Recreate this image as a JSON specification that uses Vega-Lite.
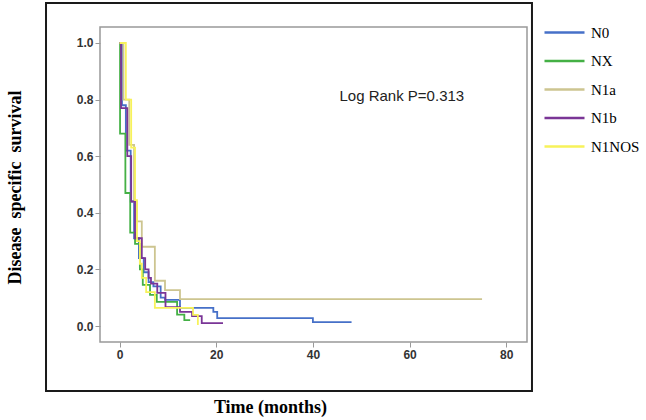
{
  "$schema": "https://vega.github.io/schema/vega-lite/v6.json",
  "autosize": {"type": "none"},
  "padding": {"left": 100, "top": 27, "right": 119, "bottom": 78},
  "width": 427,
  "height": 315,
  "background": "white",
  "config": {
    "view": {"stroke": "#999999", "strokeWidth": 1.5},
    "axis": {"grid": false, "domain": false, "tickColor": "#999999", "tickSize": 5, "labelFont": "Liberation Sans", "labelFontSize": 12, "labelFontWeight": "bold", "labelColor": "#333333", "labelPadding": 2, "titleFont": "Liberation Serif", "titleFontSize": 18, "titleFontWeight": "bold", "titleColor": "#000000"}
  },
  "datasets": {
    "km": [
      {"group": "N0", "t": 0, "s": 1.0},
      {"group": "N0", "t": 0.5, "s": 0.78},
      {"group": "N0", "t": 1.3, "s": 0.62},
      {"group": "N0", "t": 2.3, "s": 0.44},
      {"group": "N0", "t": 3.0, "s": 0.31},
      {"group": "N0", "t": 4.0, "s": 0.24},
      {"group": "N0", "t": 5.0, "s": 0.19},
      {"group": "N0", "t": 6.0, "s": 0.155},
      {"group": "N0", "t": 7.0, "s": 0.14},
      {"group": "N0", "t": 8.5, "s": 0.10},
      {"group": "N0", "t": 9.4, "s": 0.092},
      {"group": "N0", "t": 12.5, "s": 0.064},
      {"group": "N0", "t": 19.4, "s": 0.05},
      {"group": "N0", "t": 20.2, "s": 0.028},
      {"group": "N0", "t": 40, "s": 0.014},
      {"group": "N0", "t": 48, "s": 0.014},
      {"group": "NX", "t": 0, "s": 1.0},
      {"group": "NX", "t": 0.1, "s": 0.68},
      {"group": "NX", "t": 1.2, "s": 0.47},
      {"group": "NX", "t": 2.2, "s": 0.33},
      {"group": "NX", "t": 3.2, "s": 0.29},
      {"group": "NX", "t": 4.2, "s": 0.2},
      {"group": "NX", "t": 4.8, "s": 0.145},
      {"group": "NX", "t": 6.3, "s": 0.11},
      {"group": "NX", "t": 7.7, "s": 0.085},
      {"group": "NX", "t": 11.9, "s": 0.04},
      {"group": "NX", "t": 13.4, "s": 0.021},
      {"group": "NX", "t": 14.6, "s": 0.021},
      {"group": "N1a", "t": 0, "s": 1.0},
      {"group": "N1a", "t": 0.8, "s": 0.8},
      {"group": "N1a", "t": 2.0, "s": 0.64},
      {"group": "N1a", "t": 3.0, "s": 0.44},
      {"group": "N1a", "t": 3.6, "s": 0.37},
      {"group": "N1a", "t": 4.6, "s": 0.28},
      {"group": "N1a", "t": 7.3, "s": 0.16},
      {"group": "N1a", "t": 9.4, "s": 0.127},
      {"group": "N1a", "t": 12.5, "s": 0.095},
      {"group": "N1a", "t": 75, "s": 0.095},
      {"group": "N1b", "t": 0, "s": 1.0},
      {"group": "N1b", "t": 0.3, "s": 0.77},
      {"group": "N1b", "t": 1.6, "s": 0.6},
      {"group": "N1b", "t": 2.4, "s": 0.44},
      {"group": "N1b", "t": 3.2, "s": 0.31},
      {"group": "N1b", "t": 4.6, "s": 0.24},
      {"group": "N1b", "t": 5.3, "s": 0.2},
      {"group": "N1b", "t": 6.0, "s": 0.17},
      {"group": "N1b", "t": 6.5, "s": 0.15},
      {"group": "N1b", "t": 7.8, "s": 0.117},
      {"group": "N1b", "t": 9.5, "s": 0.067},
      {"group": "N1b", "t": 12.5, "s": 0.05},
      {"group": "N1b", "t": 15.0, "s": 0.035},
      {"group": "N1b", "t": 17.0, "s": 0.01},
      {"group": "N1b", "t": 21.4, "s": 0.01},
      {"group": "N1NOS", "t": 0, "s": 1.0},
      {"group": "N1NOS", "t": 1.3, "s": 0.8},
      {"group": "N1NOS", "t": 2.4, "s": 0.63},
      {"group": "N1NOS", "t": 3.2, "s": 0.445},
      {"group": "N1NOS", "t": 3.6, "s": 0.3},
      {"group": "N1NOS", "t": 4.2, "s": 0.22},
      {"group": "N1NOS", "t": 4.6, "s": 0.17},
      {"group": "N1NOS", "t": 5.5, "s": 0.12},
      {"group": "N1NOS", "t": 7.3, "s": 0.064},
      {"group": "N1NOS", "t": 15.2, "s": 0.039},
      {"group": "N1NOS", "t": 16.2, "s": 0.004}
    ]
  },
  "layer": [
    {
      "data": {"values": [{}]},
      "mark": {"type": "rect", "fill": null, "stroke": "#1a1a1a", "strokeWidth": 2, "clip": false},
      "encoding": {
        "x": {"datum": -15.22, "type": "quantitative", "scale": {"domain": [-4.05, 84.3], "nice": false, "zero": false}},
        "x2": {"datum": 85.33},
        "y": {"datum": -0.2297, "type": "quantitative", "scale": {"domain": [-0.0565, 1.0565], "nice": false, "zero": false}},
        "y2": {"datum": 1.1413}
      }
    },
    {
      "data": {"name": "km"},
      "mark": {"type": "line", "interpolate": "step-after", "strokeWidth": 1.8},
      "encoding": {
        "x": {"field": "t", "type": "quantitative", "scale": {"domain": [-4.05, 84.3], "nice": false, "zero": false},
              "axis": {"values": [0, 20, 40, 60, 80], "title": "Time (months)", "titleX": 170, "titleY": 65, "titleBaseline": "middle"}},
        "y": {"field": "s", "type": "quantitative", "scale": {"domain": [-0.0565, 1.0565], "nice": false, "zero": false},
              "axis": {"values": [0, 0.2, 0.4, 0.6, 0.8, 1.0], "format": ".1f", "title": "Disease\u00a0 specific\u00a0 survival", "titleX": -85, "titleY": 160, "titleBaseline": "middle"}},
        "color": {"field": "group", "type": "nominal",
                  "scale": {"domain": ["N0", "NX", "N1a", "N1b", "N1NOS"], "range": ["#4670c8", "#44b045", "#cdc590", "#7a3596", "#f7f25a"]},
                  "legend": {"title": null, "orient": "none", "legendX": 453, "legendY": -6, "padding": 0,
                             "symbolType": "M-2,0L2,0", "symbolSize": 400, "symbolStrokeWidth": 2.5,
                             "labelFont": "Liberation Serif", "labelFontSize": 15, "labelColor": "#000000", "labelOffset": 15, "rowPadding": 8.5}}
      }
    },
    {
      "data": {"values": [{"label": "Log Rank P=0.313"}]},
      "mark": {"type": "text", "align": "left", "baseline": "middle", "font": "Liberation Sans", "fontSize": 15, "color": "#222222"},
      "encoding": {
        "text": {"field": "label"},
        "x": {"datum": 45.5, "type": "quantitative"},
        "y": {"datum": 0.813, "type": "quantitative"}
      }
    }
  ]
}
